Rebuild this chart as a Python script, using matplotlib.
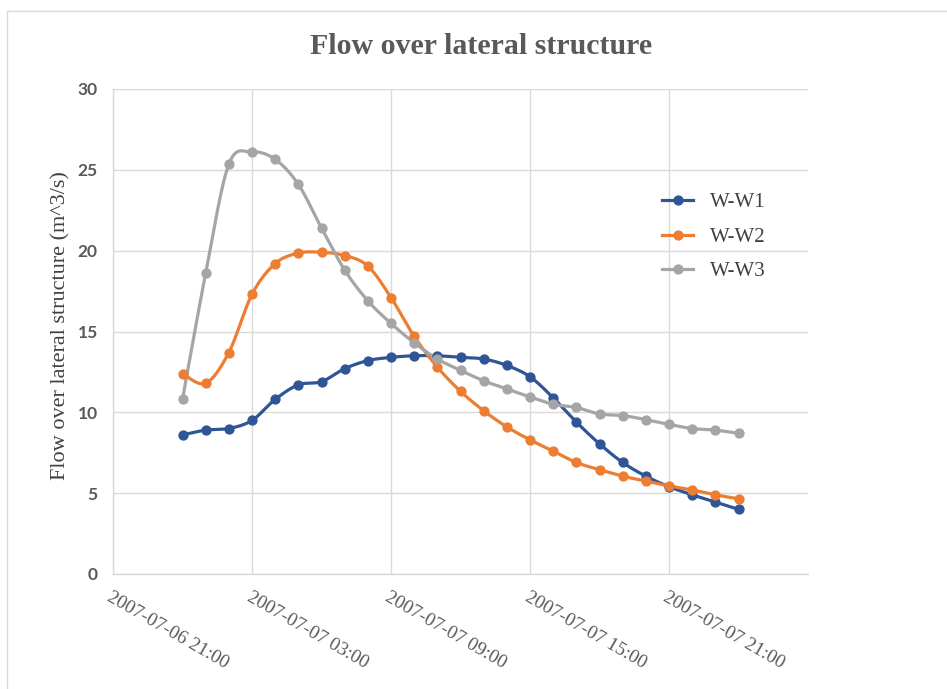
import numpy as np
import pandas as pd
import matplotlib
matplotlib.use("Agg")
import matplotlib.pyplot as plt
import matplotlib.dates as mdates
from matplotlib.patches import Rectangle
from matplotlib.lines import Line2D

# Hourly flow over the lateral structures
times = pd.date_range("2007-07-07 00:00", "2007-07-08 00:00", freq="h")

w_w1 = [8.6, 8.9, 9.0, 9.5, 10.8, 11.7, 11.9, 12.7, 13.2, 13.4, 13.5, 13.5, 13.4,
        13.3, 12.9, 12.2, 10.9, 9.4, 8.05, 6.9, 6.05, 5.4, 4.9, 4.45, 4.0]
w_w2 = [12.4, 11.8, 13.7, 17.3, 19.2, 19.85, 19.9, 19.7, 19.05, 17.1, 14.7, 12.8, 11.3,
        10.1, 9.1, 8.3, 7.6, 6.9, 6.45, 6.05, 5.75, 5.45, 5.2, 4.9, 4.65]
w_w3 = [10.8, 18.6, 25.35, 26.1, 25.65, 24.1, 21.4, 18.8, 16.9, 15.5, 14.3, 13.3, 12.6,
        11.95, 11.45, 10.95, 10.5, 10.3, 9.9, 9.8, 9.55, 9.25, 9.0, 8.9, 8.7]

series_names = ["W-W1", "W-W2", "W-W3"]
series_values = [w_w1, w_w2, w_w3]
series_colors = ["#2F5597", "#ED7D31", "#A5A5A5"]

x_start = pd.Timestamp("2007-07-06 21:00")
x_end = pd.Timestamp("2007-07-08 03:00")
tick_times = pd.date_range("2007-07-06 21:00", "2007-07-07 21:00", freq="6h")
tick_labels = [t.strftime("%Y-%m-%d %H:%M") for t in tick_times]


def smooth_curve(x, y, steps=20):
    """Bezier smoothing through every point (Catmull-Rom style control points)."""
    x = np.asarray(x, float)
    y = np.asarray(y, float)
    n = len(x)
    xs, ys = [], []
    for i in range(n - 1):
        p0 = i - 1 if i > 0 else i
        p3 = i + 2 if i + 2 < n else i + 1
        c1x = x[i] + (x[i + 1] - x[p0]) / 6
        c1y = y[i] + (y[i + 1] - y[p0]) / 6
        c2x = x[i + 1] - (x[p3] - x[i]) / 6
        c2y = y[i + 1] - (y[p3] - y[i]) / 6
        t = np.linspace(0, 1, steps, endpoint=(i == n - 2))
        b0 = (1 - t) ** 3
        b1 = 3 * (1 - t) ** 2 * t
        b2 = 3 * (1 - t) * t ** 2
        b3 = t ** 3
        xs.append(b0 * x[i] + b1 * c1x + b2 * c2x + b3 * x[i + 1])
        ys.append(b0 * y[i] + b1 * c1y + b2 * c2y + b3 * y[i + 1])
    return np.concatenate(xs), np.concatenate(ys)


W, H = 947, 689
fig = plt.figure(figsize=(W / 100, H / 100), dpi=100)
fig.patch.set_facecolor("white")

# chart area border
fig.patches.append(Rectangle((7 / W, -0.01), 1.0, 1 - 11 / H + 0.01,
                             transform=fig.transFigure, fill=False,
                             edgecolor="#D9D9D9", linewidth=1.0))

ax = fig.add_axes([113 / W, 1 - 574 / H, (808 - 113) / W, (574 - 89) / H])

xnum = mdates.date2num(times.to_pydatetime())
for name, vals, col in zip(series_names, series_values, series_colors):
    sx, sy = smooth_curve(xnum, vals)
    ax.plot(sx, sy, color=col, linewidth=2.3, solid_capstyle="round", zorder=3)
    ax.plot(xnum, vals, linestyle="none", marker="o", markersize=6.4,
            color=col, zorder=4)

ax.set_xlim(mdates.date2num(x_start), mdates.date2num(x_end))
ax.set_ylim(0, 30)
ax.set_yticks(np.arange(0, 31, 5))
ax.set_xticks(mdates.date2num(tick_times.to_pydatetime()))
ax.set_xticklabels([])

ax.grid(True, color="#D9D9D9", linewidth=1.0)
ax.set_axisbelow(True)
for s in ["top", "right"]:
    ax.spines[s].set_visible(False)
for s in ["left", "bottom"]:
    ax.spines[s].set_color("#D9D9D9")
    ax.spines[s].set_linewidth(1.0)
ax.tick_params(axis="both", length=0)
ax.tick_params(axis="y", pad=11, labelsize=12.5, labelcolor="#595959")
for lbl in ax.get_yticklabels():
    lbl.set_fontfamily("Lato")
    lbl.set_fontweight("bold")

# rotated date labels
for t, lab in zip(tick_times, tick_labels):
    ax.annotate(lab, xy=(mdates.date2num(t), 0), xycoords=("data", "axes fraction"),
                xytext=(0, -15), textcoords="offset pixels",
                rotation=-30, rotation_mode="anchor", ha="left", va="top",
                fontsize=13.8, family="Liberation Serif", color="#595959")

ax.set_ylabel("Flow over lateral structure (m^3/s)", family="Liberation Serif",
              fontsize=16, color="#404040")
ax.yaxis.set_label_coords((70 - 113) / 695, (574 - 326) / 485)

fig.text(481 / W, 1 - 47 / H, "Flow over lateral structure", ha="center", va="center",
         family="Liberation Serif", fontweight="bold", fontsize=21.5, color="#595959")

handles = [Line2D([], [], color=c, linewidth=2.3, marker="o", markersize=6.4)
           for c in series_colors]
leg = ax.legend(handles, series_names, loc="center left",
                bbox_to_anchor=(662 / W, 1 - 237 / H), bbox_transform=fig.transFigure,
                frameon=False, prop={"family": "Liberation Serif", "size": 15},
                handlelength=1.5, handletextpad=0.8, labelspacing=0.72,
                labelcolor="#404040", borderaxespad=0, borderpad=0)

fig.savefig("out.png", dpi=100)
